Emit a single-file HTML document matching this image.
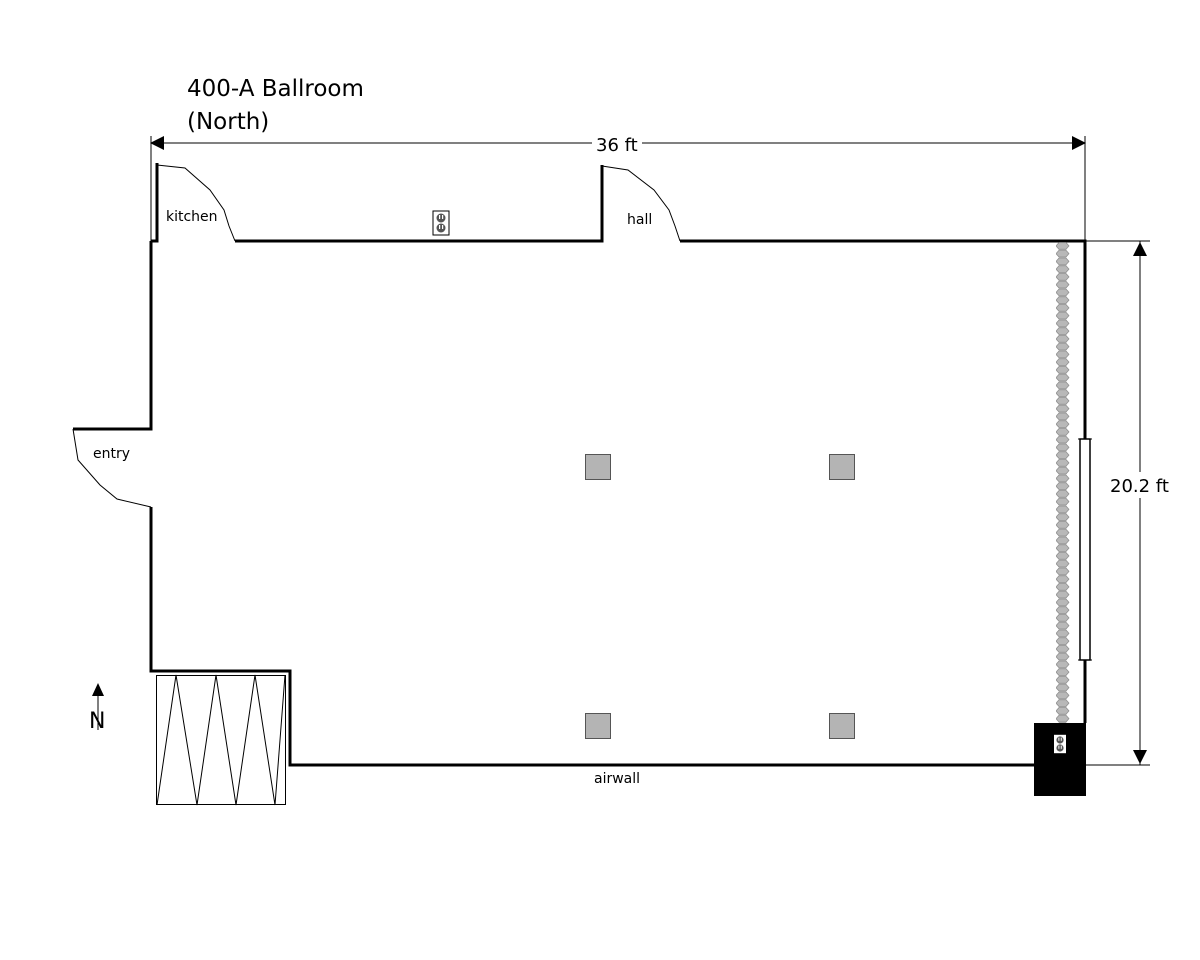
<!DOCTYPE html>
<html><head><meta charset="utf-8"><style>
html,body{margin:0;padding:0;background:#fff;}
svg{display:block;}
text{font-family:"DejaVu Sans","Liberation Sans",sans-serif;}
</style></head><body>
<svg width="1200" height="960" viewBox="0 0 1200 960" xmlns="http://www.w3.org/2000/svg">
<defs>
<pattern id="sc" x="1056" y="242" width="14" height="7.75" patternUnits="userSpaceOnUse">
<polygon points="3,0.5 10,0.5 13,3.9 10,7.3 3,7.3 0,3.9" fill="#b8b8b8" stroke="#888" stroke-width="0.7"/>
</pattern>
<g id="outlet">
<rect x="-8" y="-12" width="16" height="24" fill="#fff" stroke="#000" stroke-width="1"/>
<circle cx="0" cy="-5" r="4.5" fill="#555"/><circle cx="0" cy="5" r="4.5" fill="#555"/>
<rect x="-2" y="-8" width="1.2" height="4" fill="#fff"/><rect x="1" y="-8" width="1.2" height="4" fill="#fff"/>
<rect x="-2" y="2" width="1.2" height="4" fill="#fff"/><rect x="1" y="2" width="1.2" height="4" fill="#fff"/>
</g>
</defs>
<text x="187" y="96" font-size="23">400-A Ballroom</text>
<text x="187" y="129" font-size="23">(North)</text>

<!-- top dimension -->
<line x1="151" y1="143" x2="1085" y2="143" stroke="#000" stroke-width="1"/>
<polygon points="150,143 164,136 164,150" fill="#000"/>
<polygon points="1086,143 1072,136 1072,150" fill="#000"/>
<line x1="151" y1="136" x2="151" y2="241" stroke="#000" stroke-width="1"/>
<line x1="1085" y1="136" x2="1085" y2="241" stroke="#000" stroke-width="1"/>
<rect x="592" y="132" width="50" height="22" fill="#fff"/>
<text x="596" y="151" font-size="18">36 ft</text>

<!-- right dimension -->
<line x1="1140" y1="241" x2="1140" y2="765" stroke="#000" stroke-width="1"/>
<line x1="1085" y1="241" x2="1150" y2="241" stroke="#000" stroke-width="1"/>
<line x1="1085" y1="765" x2="1150" y2="765" stroke="#000" stroke-width="1"/>
<polygon points="1140,242 1133,256 1147,256" fill="#000"/>
<polygon points="1140,764 1133,750 1147,750" fill="#000"/>
<rect x="1106" y="472" width="70" height="26" fill="#fff"/>
<text x="1110" y="492" font-size="18">20.2 ft</text>

<!-- walls -->
<g fill="none" stroke="#000" stroke-width="3">
<polyline points="151,241 151,429 73,429"/>
<polyline points="151,507 151,671 290,671 290,765 1035,765"/>
<polyline points="151,241 157,241 157,163"/>
<polyline points="235,241 602,241 602,165"/>
<polyline points="680,241 1085,241 1085,723"/>
</g>
<g fill="none" stroke="#000" stroke-width="1">
<path d="M157,165 L185,168 L210,190 L224,210 L229,226 L235,241"/>
<path d="M602,166 L628,170 L654,190 L669,210 L675,226 L680,241"/>
<path d="M73,429 L78,460 L100,485 L117,499 L151,507"/>
</g>
<text x="166" y="221" font-size="14">kitchen</text>
<text x="627" y="224" font-size="14">hall</text>
<text x="93" y="458" font-size="14">entry</text>
<text x="594" y="783" font-size="14">airwall</text>

<!-- window -->
<rect x="1080" y="439" width="10" height="221" fill="#fff" stroke="#000" stroke-width="1.5"/>
<line x1="1078" y1="439" x2="1092" y2="439" stroke="#000"/>
<line x1="1078" y1="660" x2="1092" y2="660" stroke="#000"/>

<!-- airwall scallops -->
<rect x="1056" y="242" width="14" height="481" fill="url(#sc)"/>

<!-- black box -->
<rect x="1034" y="723" width="52" height="73" fill="#000"/>
<use href="#outlet" transform="translate(1060,744) scale(0.8)"/>
<use href="#outlet" transform="translate(441,223)"/>

<!-- pillars -->
<g fill="#b4b4b4" stroke="#555" stroke-width="1">
<rect x="585.5" y="454.5" width="25" height="25"/>
<rect x="829.5" y="454.5" width="25" height="25"/>
<rect x="585.5" y="713.5" width="25" height="25"/>
<rect x="829.5" y="713.5" width="25" height="25"/>
</g>

<!-- stairs -->
<rect x="156.5" y="675.5" width="129" height="129" fill="#fff" stroke="#000" stroke-width="1"/>
<polyline points="157,805 176,675 197,805 216,675 236,805 255,675 275,805 285,675" fill="none" stroke="#000" stroke-width="1"/>

<!-- north arrow -->
<polygon points="98,683 92,696 104,696" fill="#000"/>
<line x1="98" y1="695" x2="98" y2="730" stroke="#000" stroke-width="1"/>
<text x="89" y="728" font-size="22">N</text>
</svg>
</body></html>
